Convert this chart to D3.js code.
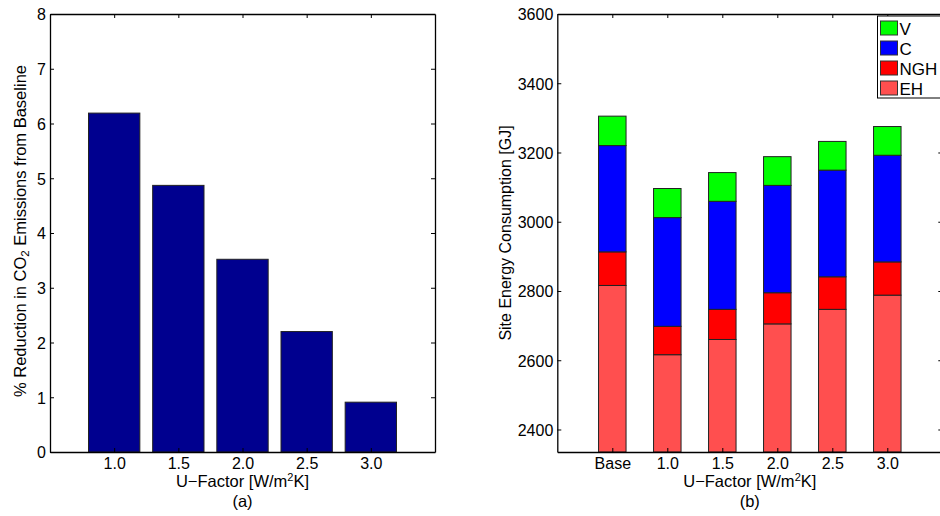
<!DOCTYPE html>
<html>
<head>
<meta charset="utf-8">
<script src="https://cdn.jsdelivr.net/npm/d3@7"></script>
<style>
  body { margin: 0; background: #fff; }
  svg { display: block; font-family: "Liberation Sans", Arial, sans-serif; }
  .tick text { font-size: 16px; fill: #000; }
</style>
</head>
<body>
<div id="chart"></div>
<script>
// Data
var uFactors = ["1.0", "1.5", "2.0", "2.5", "3.0"];
var co2Reduction = [6.19, 4.87, 3.52, 2.20, 0.91];

var caseLabels = ["Base", "1.0", "1.5", "2.0", "2.5", "3.0"];
var ehValues  = [2816, 2616, 2660, 2705, 2747, 2788];
var nghValues = [97, 82, 87, 90, 94, 96];
var cValues   = [307, 314, 312, 310, 308, 308];
var vValues   = [85, 84, 83, 83, 83, 83];

var seriesKeys = ["EH", "NGH", "C", "V"];
var seriesColors = { EH: "#ff4f4f", NGH: "#ff0000", C: "#0000ff", V: "#00ff00" };

var svgWidth = 940, svgHeight = 516;

var svg = d3.select("#chart").append("svg")
    .attr("width", svgWidth)
    .attr("height", svgHeight);

// helper: MATLAB-like box axes with inward ticks
function boxAxes(g, x, y, xTicks, xFormat, yTicks) {
    var x0 = x.range()[0], x1 = x.range()[1];
    var y0 = y.range()[0], y1 = y.range()[1];

    var bottom = g.append("g")
        .attr("transform", `translate(0, ${y0})`)
        .call(d3.axisBottom(x).tickValues(xTicks).tickFormat(xFormat).tickSizeInner(-4).tickSizeOuter(0).tickPadding(6));
    var top = g.append("g")
        .attr("transform", `translate(0, ${y1})`)
        .call(d3.axisTop(x).tickValues(xTicks).tickFormat("").tickSizeInner(-4).tickSizeOuter(0));
    var left = g.append("g")
        .attr("transform", `translate(${x0}, 0)`)
        .call(d3.axisLeft(y).tickValues(yTicks).tickFormat(d3.format("d")).tickSizeInner(-4).tickSizeOuter(0).tickPadding(4));
    var right = g.append("g")
        .attr("transform", `translate(${x1}, 0)`)
        .call(d3.axisRight(y).tickValues(yTicks).tickFormat("").tickSizeInner(-4).tickSizeOuter(0));

    [bottom, top, left, right].forEach(function (a) {
        a.select(".domain").attr("stroke", "#000").attr("stroke-width", 1.3);
        a.selectAll(".tick line").attr("stroke", "#000");
        a.attr("font-family", null).attr("font-size", null);
    });
    left.selectAll(".tick text").attr("dy", "0.36em");
}

// ---------- Chart (a) ----------
var gA = svg.append("g");
var xA = d3.scaleLinear().domain([0.5, 3.5]).range([50, 435]);
var yA = d3.scaleLinear().domain([0, 8]).range([452, 14]);
var barWA = (xA(1.5) - xA(1.0)) * 0.8;

gA.selectAll("rect.bar")
    .data(co2Reduction)
    .enter()
    .append("rect")
    .attr("class", "bar")
    .attr("x", (d, i) => xA(+uFactors[i]) - barWA / 2)
    .attr("y", d => yA(d))
    .attr("width", barWA)
    .attr("height", d => yA(0) - yA(d))
    .attr("fill", "#00008f")
    .attr("stroke", "#222")
    .attr("stroke-width", 1);

boxAxes(gA, xA, yA, uFactors.map(Number), d3.format(".1f"), d3.range(0, 9));

gA.append("text")
    .attr("transform", "translate(26, 231) rotate(-90)")
    .attr("text-anchor", "middle")
    .attr("font-size", "16.5px")
    .html('% Reduction in CO<tspan baseline-shift="-25%" font-size="11.5px">2</tspan> Emissions from Baseline');

gA.append("text")
    .attr("x", xA(2.0))
    .attr("y", 487)
    .attr("text-anchor", "middle")
    .attr("font-size", "16.5px")
    .html('U\u2212Factor [W/m<tspan dy="-6" font-size="11px">2</tspan><tspan dy="6">K]</tspan>');

gA.append("text")
    .attr("x", xA(2.0))
    .attr("y", 507)
    .attr("text-anchor", "middle")
    .attr("font-size", "16.5px")
    .text("(a)");

// ---------- Chart (b) ----------
var gB = svg.append("g");
var xB = d3.scaleLinear().domain([0, 7]).range([557.3, 942.3]);
var yB = d3.scaleLinear().domain([2335, 3600]).range([452, 14]).clamp(true);
var barWB = (xB(2) - xB(1)) * 0.5;

var table = caseLabels.map((c, i) => ({
    label: c, EH: ehValues[i], NGH: nghValues[i], C: cValues[i], V: vValues[i]
}));
var stacked = d3.stack().keys(seriesKeys)(table);

gB.selectAll("g.layer")
    .data(stacked)
    .enter()
    .append("g")
    .attr("class", "layer")
    .attr("fill", d => seriesColors[d.key])
    .selectAll("rect")
    .data(d => d)
    .enter()
    .append("rect")
    .attr("x", (d, i) => xB(i + 1) - barWB / 2)
    .attr("y", d => yB(d[1]))
    .attr("width", barWB)
    .attr("height", d => yB(d[0]) - yB(d[1]))
    .attr("stroke", "#222")
    .attr("stroke-width", 1);

boxAxes(gB, xB, yB, d3.range(1, 7), i => caseLabels[i - 1], d3.range(2400, 3601, 200));

gB.append("text")
    .attr("transform", "translate(511, 233) rotate(-90)")
    .attr("text-anchor", "middle")
    .attr("font-size", "16px")
    .text("Site Energy Consumption [GJ]");

gB.append("text")
    .attr("x", xB(3.5))
    .attr("y", 487)
    .attr("text-anchor", "middle")
    .attr("font-size", "16.5px")
    .html('U\u2212Factor [W/m<tspan dy="-6" font-size="11px">2</tspan><tspan dy="6">K]</tspan>');

gB.append("text")
    .attr("x", xB(3.5))
    .attr("y", 507)
    .attr("text-anchor", "middle")
    .attr("font-size", "16.5px")
    .text("(b)");

// Legend (top right, partly cut off like the original)
var legend = gB.append("g").attr("transform", "translate(877.5, 16)");
legend.append("rect")
    .attr("width", 80)
    .attr("height", 82)
    .attr("fill", "#fff")
    .attr("stroke", "#000")
    .attr("stroke-width", 1);

var legendKeys = seriesKeys.slice().reverse();
var items = legend.selectAll("g.item")
    .data(legendKeys)
    .enter()
    .append("g")
    .attr("class", "item")
    .attr("transform", (d, i) => `translate(3, ${5 + i * 20})`);

items.append("rect")
    .attr("width", 17)
    .attr("height", 14)
    .attr("fill", d => seriesColors[d])
    .attr("stroke", "#333")
    .attr("stroke-width", 1);

items.append("text")
    .attr("x", 19)
    .attr("y", 13.5)
    .attr("font-size", "17px")
    .text(d => d);
</script>
</body>
</html>
